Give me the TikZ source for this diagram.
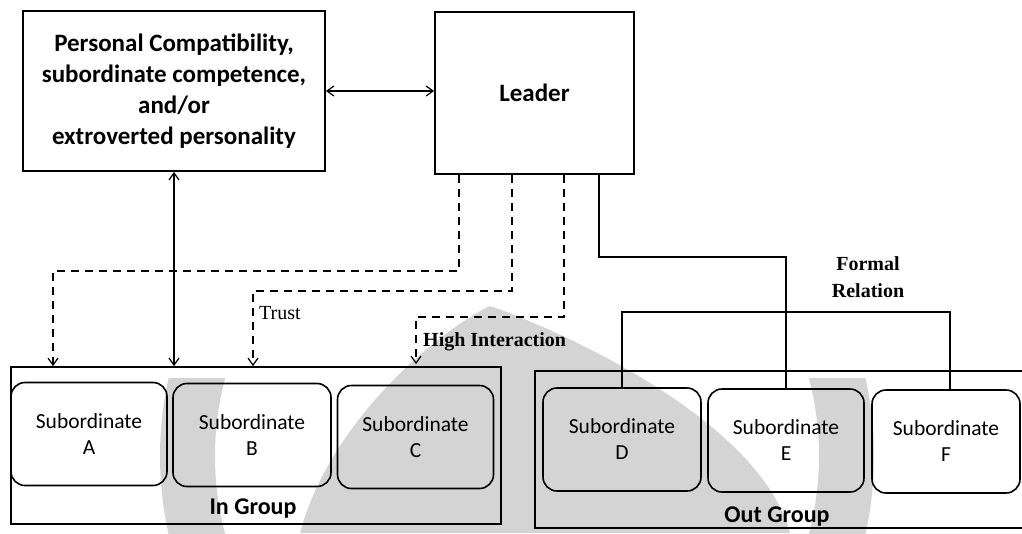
\documentclass[tikz,border=0pt]{standalone}
\usepackage{fontspec}
\setmainfont{Carlito}
\newfontfamily\tms{Liberation Serif}
\usetikzlibrary{arrows.meta}
\begin{document}
\begin{tikzpicture}[x=1pt,y=-1pt,
  box/.style={draw,line width=1.8pt,inner sep=0pt,align=center},
  grp/.style={draw,line width=1.8pt,inner sep=0pt},
  sub/.style={draw,line width=1.6pt,rounded corners=14pt,inner sep=0pt,
    minimum width=156pt,minimum height=103pt,align=center,
    font=\fontsize{21.5}{26}\selectfont},
  conn/.style={line width=1.3pt},
  dsh/.style={conn,dash pattern=on 8pt off 6pt},
  barb/.style={-{Straight Barb[length=7pt,width=10pt,line width=1.2pt]}},
  dbl/.style={{Straight Barb[length=7pt,width=10pt,line width=1.2pt]}-{Straight Barb[length=7pt,width=10pt,line width=1.2pt]}},
  lbl/.style={inner sep=0pt,font=\tms\fontsize{20}{27}\selectfont}
]
\useasboundingbox (0,0) rectangle (1022,533);
\clip (0,0) rectangle (1022,533);

% faint watermark
\fill[black!17] (490,306) .. controls (440,330) and (330,420) .. (300,533)
  -- (790,533) .. controls (760,420) and (560,330) .. (490,306) -- cycle;
\begin{scope}
  \clip (0,378) rectangle (1022,533);
  \fill[black!17,even odd rule] (517,456) circle[radius=357] (517,456) circle[radius=302];
\end{scope}

% main boxes
\node[box,minimum width=302pt,minimum height=160pt,
  font=\bfseries\fontsize{25}{31}\selectfont] (pc) at (174,91)
  {Personal Compatibility,\\subordinate competence,\\and/or\\extroverted personality};
\node[box,minimum width=199pt,minimum height=162pt,
  font=\bfseries\fontsize{25}{31}\selectfont] (leader) at (534.5,93) {Leader};

% groups
\node[grp,minimum width=490pt,minimum height=157pt] (ingroup) at (256,445.5) {};
\node[grp,minimum width=505pt,minimum height=157pt] (outgroup) at (787.5,449.5) {};
\node[inner sep=0pt,font=\bfseries\fontsize{24}{28}\selectfont] (inlbl) at (253,509) {In Group};
\node[inner sep=0pt,font=\bfseries\fontsize{24}{28}\selectfont] (outlbl) at (777,517) {Out Group};

% subordinates
\node[sub] (subA) at (89,434) {Subordinate\\A};
\node[sub,minimum width=158pt] (subB) at (252,435) {Subordinate\\B};
\node[sub] (subC) at (415.5,437) {Subordinate\\C};
\node[sub,minimum width=158pt] (subD) at (622,439.5) {Subordinate\\D};
\node[sub] (subE) at (786,440.5) {Subordinate\\E};
\node[sub,minimum width=148pt] (subF) at (946,441.5) {Subordinate\\F};

% connectors
\draw[conn,dbl] (pc.east) -- (pc.east -| leader.west);
\draw[conn,dbl] (pc.south) -- (pc.south |- ingroup.north);

\coordinate (d1) at (53,271);
\coordinate (d2) at (253,291);
\coordinate (d3) at (416,317);
\draw[dsh,barb] ([xshift=-75.5pt]leader.south) |- (d1) -- (d1 |- ingroup.north);
\draw[dsh,barb] ([xshift=-22.5pt]leader.south) |- (d2) -- (d2 |- ingroup.north);
\draw[dsh,barb] ([xshift=29.5pt]leader.south) |- (d3) -- ([yshift=2pt]d3 |- ingroup.north);

\coordinate (fr) at (786,257);
\draw[conn] ([xshift=64.5pt]leader.south) |- (fr) -- (subE.north);
\coordinate (brL) at (622,312);
\coordinate (brR) at (950,312);
\draw[conn] (subD.north) -- (brL) -- (brR) -- (brR |- subF.north);

% labels
\node[lbl,anchor=west] (trust) at (259,313) {Trust};
\node[lbl,anchor=west,font=\tms\bfseries\fontsize{20}{27}\selectfont] (hi) at (423,342) {High Interaction};
\node[lbl,align=center,font=\tms\bfseries\fontsize{20}{27}\selectfont] (formal) at (868,277) {Formal\\Relation};
\end{tikzpicture}
\end{document}
